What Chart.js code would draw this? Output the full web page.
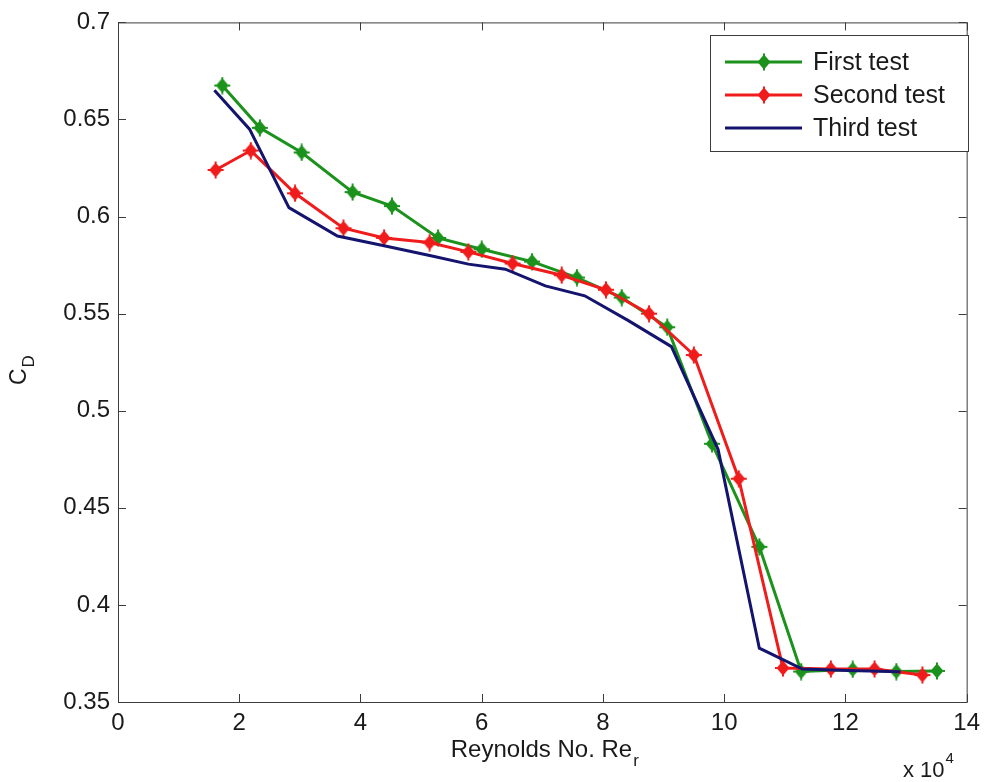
<!DOCTYPE html>
<html>
<head>
<meta charset="utf-8">
<script src="https://cdn.jsdelivr.net/npm/chart.js@4/dist/chart.umd.min.js"></script>
<style>
  html, body { margin: 0; padding: 0; background: #ffffff; }
  #wrap { width: 987px; height: 782px; }
</style>
</head>
<body>
<div id="wrap"><canvas id="chart" width="987" height="782"></canvas></div>
<script>
// Reynolds number (x 10^4) and drag coefficient for each test run
const reFirst  = [1.72, 2.34, 3.03, 3.87, 4.52, 5.28, 6.00, 6.83, 7.57, 8.31, 9.06, 9.80, 10.58, 11.27, 12.12, 12.84, 13.51];
const cdFirst  = [0.6675, 0.6457, 0.6330, 0.6126, 0.6054, 0.5890, 0.5832, 0.5768, 0.5686, 0.5583, 0.5430, 0.4830, 0.4299, 0.3657, 0.3668, 0.3657, 0.3660];

const reSecond = [1.61, 2.19, 2.92, 3.72, 4.39, 5.14, 5.78, 6.51, 7.32, 8.05, 8.76, 9.50, 10.24, 10.97, 11.76, 12.48, 13.27];
const cdSecond = [0.6240, 0.6340, 0.6120, 0.5940, 0.5890, 0.5866, 0.5818, 0.5758, 0.5698, 0.5623, 0.5500, 0.5287, 0.4650, 0.3675, 0.3670, 0.3670, 0.3639];

const reThird  = [1.59, 2.17, 2.82, 3.62, 4.39, 5.18, 5.78, 6.39, 7.05, 7.70, 8.42, 9.13, 9.90, 10.58, 11.29, 12.03, 12.91];
const cdThird  = [0.6650, 0.6450, 0.6046, 0.5900, 0.5850, 0.5797, 0.5755, 0.5729, 0.5643, 0.5592, 0.5464, 0.5330, 0.4800, 0.3777, 0.3670, 0.3662, 0.3656];

const seriesNames = ['First test', 'Second test', 'Third test'];

const xTickValues = [0, 2, 4, 6, 8, 10, 12, 14];
const xTickLabels = ['0', '2', '4', '6', '8', '10', '12', '14'];
const yTickValues = [0.35, 0.4, 0.45, 0.5, 0.55, 0.6, 0.65, 0.7];
const yTickLabels = ['0.35', '0.4', '0.45', '0.5', '0.55', '0.6', '0.65', '0.7'];

const GREEN = '#1b921b';
const RED   = '#f01c1c';
const NAVY  = '#14146e';
const AXIS  = '#3c3c3c';
const TEXT  = '#1a1a1a';
const FONT  = '"Liberation Sans", Arial, sans-serif';

// Filled diamond marker with a thin cross through it
function makeMarker(color) {
  const c = document.createElement('canvas');
  c.width = 18; c.height = 18;
  const g = c.getContext('2d');
  const m = 9;
  g.fillStyle = color;
  g.beginPath();
  g.moveTo(m, m - 7.5); g.lineTo(m + 6.5, m); g.lineTo(m, m + 7.5); g.lineTo(m - 6.5, m);
  g.closePath(); g.fill();
  g.fillRect(m - 8, m - 1, 16, 2);
  g.fillRect(m - 1, m - 8.5, 2, 17);
  return c;
}
const markGreen = makeMarker(GREEN);
const markRed = makeMarker(RED);

const toPoints = (xs, ys) => xs.map((x, i) => ({ x: x, y: ys[i] }));

// Frame, inward ticks on all four sides, axis titles and legend box
const decorPlugin = {
  id: 'decor',
  afterDatasetsDraw(chart) {
    const { ctx, chartArea: a, scales } = chart;
    const xs = scales.x, ys = scales.y;
    ctx.save();
    ctx.strokeStyle = AXIS;
    ctx.lineWidth = 1;
    ctx.strokeRect(a.left + 0.5, a.top + 0.5, a.right - a.left, a.bottom - a.top);
    const tl = 8;
    ctx.beginPath();
    xTickValues.forEach(v => {
      const px = Math.round(xs.getPixelForValue(v)) + 0.5;
      ctx.moveTo(px, a.bottom); ctx.lineTo(px, a.bottom - tl);
      ctx.moveTo(px, a.top); ctx.lineTo(px, a.top + tl);
    });
    yTickValues.forEach(v => {
      const py = Math.round(ys.getPixelForValue(v)) + 0.5;
      ctx.moveTo(a.left, py); ctx.lineTo(a.left + tl, py);
      ctx.moveTo(a.right, py); ctx.lineTo(a.right - tl, py);
    });
    ctx.stroke();

    // x axis title with subscript
    ctx.fillStyle = TEXT;
    ctx.textBaseline = 'alphabetic';
    ctx.textAlign = 'left';
    const main = 'Reynolds No. Re';
    ctx.font = '24px ' + FONT;
    const wMain = ctx.measureText(main).width;
    ctx.font = '17px ' + FONT;
    const wSub = ctx.measureText('r').width;
    const cx = (a.left + a.right) / 2 + 2;
    const startX = cx - (wMain + wSub) / 2;
    ctx.font = '24px ' + FONT;
    ctx.fillText(main, startX, 757);
    ctx.font = '17px ' + FONT;
    ctx.fillText('r', startX + wMain + 1, 766);

    // exponent note
    ctx.font = '22px ' + FONT;
    ctx.fillText('x 10', 903, 777);
    const w10 = ctx.measureText('x 10').width;
    ctx.font = '15px ' + FONT;
    ctx.fillText('4', 903 + w10 + 1, 763);

    // y axis title with subscript
    ctx.save();
    ctx.translate(26, 385);
    ctx.rotate(-Math.PI / 2);
    ctx.font = '23px ' + FONT;
    ctx.fillText('C', 0, 0);
    const wC = ctx.measureText('C').width;
    ctx.font = '17px ' + FONT;
    ctx.fillText('D', wC + 1, 8);
    ctx.restore();

    // legend
    const lx = 710, ly = 35, lw = 258, lh = 116;
    ctx.fillStyle = '#ffffff';
    ctx.fillRect(lx, ly, lw, lh);
    ctx.strokeStyle = AXIS;
    ctx.lineWidth = 1;
    ctx.strokeRect(lx + 0.5, ly + 0.5, lw, lh);
    chart.data.datasets.forEach((ds, i) => {
      const ry = 62 + i * 33;
      ctx.strokeStyle = ds.borderColor;
      ctx.lineWidth = 3;
      ctx.beginPath();
      ctx.moveTo(725, ry); ctx.lineTo(802, ry);
      ctx.stroke();
      if (ds.pointRadius > 0 && ds.pointStyle) {
        ctx.drawImage(ds.pointStyle, 764 - 9, ry - 9);
      }
      ctx.fillStyle = TEXT;
      ctx.font = '25px ' + FONT;
      ctx.textAlign = 'left';
      ctx.textBaseline = 'middle';
      ctx.fillText(ds.label, 813, ry + 1);
    });
    ctx.restore();
  }
};

new Chart(document.getElementById('chart'), {
  type: 'scatter',
  data: {
    datasets: [
      {
        label: seriesNames[0],
        data: toPoints(reFirst, cdFirst),
        showLine: true,
        borderColor: GREEN,
        backgroundColor: GREEN,
        borderWidth: 3,
        pointStyle: markGreen,
        pointRadius: 7,
        tension: 0,
        order: 3
      },
      {
        label: seriesNames[1],
        data: toPoints(reSecond, cdSecond),
        showLine: true,
        borderColor: RED,
        backgroundColor: RED,
        borderWidth: 3,
        pointStyle: markRed,
        pointRadius: 7,
        tension: 0,
        order: 2
      },
      {
        label: seriesNames[2],
        data: toPoints(reThird, cdThird),
        showLine: true,
        borderColor: NAVY,
        backgroundColor: NAVY,
        borderWidth: 3,
        pointRadius: 0,
        tension: 0,
        order: 1
      }
    ]
  },
  options: {
    responsive: false,
    animation: false,
    events: [],
    layout: { padding: { left: 0, top: 21, right: 17, bottom: 0 } },
    plugins: {
      legend: { display: false },
      tooltip: { enabled: false }
    },
    scales: {
      x: {
        type: 'linear',
        min: 0, max: 14,
        grid: { display: false, drawTicks: false },
        border: { display: false },
        afterFit(s) { s.height = 80; },
        afterBuildTicks(s) { s.ticks = xTickValues.map(v => ({ value: v })); },
        ticks: {
          padding: 7,
          color: TEXT,
          font: { family: FONT, size: 24 },
          callback: (v) => xTickLabels[xTickValues.indexOf(v)]
        }
      },
      y: {
        type: 'linear',
        min: 0.35, max: 0.7,
        grid: { display: false, drawTicks: false },
        border: { display: false },
        afterFit(s) { s.width = 118; },
        afterBuildTicks(s) { s.ticks = yTickValues.map(v => ({ value: v })); },
        ticks: {
          padding: 8,
          color: TEXT,
          font: { family: FONT, size: 24 },
          callback: (v) => {
            const i = yTickValues.findIndex(t => Math.abs(t - v) < 1e-9);
            return i >= 0 ? yTickLabels[i] : '';
          }
        }
      }
    }
  },
  plugins: [decorPlugin]
});
</script>
</body>
</html>
